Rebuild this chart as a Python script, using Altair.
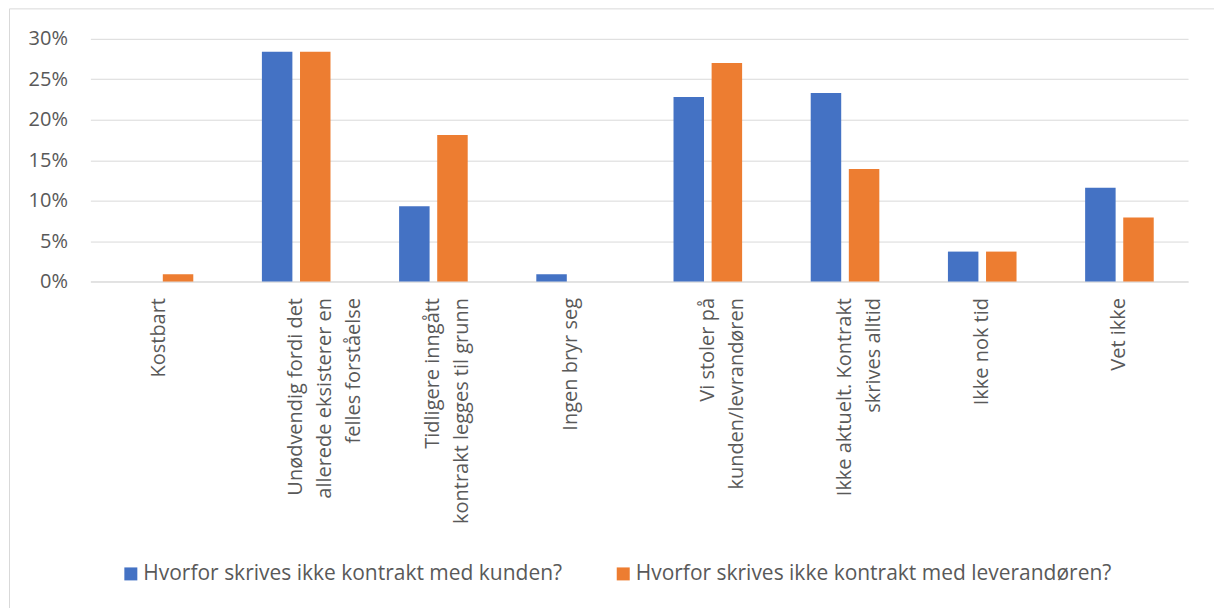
import altair as alt
import pandas as pd

# Svarkategorier (linjeskift markert med \n) og andeler i prosent
kategorier = [
    "Kostbart",
    "Unødvendig fordi det\nallerede eksisterer en\nfelles forståelse",
    "Tidligere inngått\nkontrakt legges til grunn",
    "Ingen bryr seg",
    "Vi stoler på\nkunden/levrandøren",
    "Ikke aktuelt. Kontrakt\nskrives alltid",
    "Ikke nok tid",
    "Vet ikke",
]
serier = [
    "Hvorfor skrives ikke kontrakt med kunden?",
    "Hvorfor skrives ikke kontrakt med leverandøren?",
]
kunden = [0.0, 28.4, 9.3, 0.9, 22.8, 23.3, 3.7, 11.6]
leverandoren = [0.9, 28.4, 18.1, 0.0, 27.0, 13.9, 3.7, 7.9]
farger = ["#4472C4", "#ED7D31"]
y_ticks = [0, 5, 10, 15, 20, 25, 30]

rows = []
for kat, k, l in zip(kategorier, kunden, leverandoren):
    rows.append({"kategori": kat, "serie": serier[0], "verdi": k})
    rows.append({"kategori": kat, "serie": serier[1], "verdi": l})
df = pd.DataFrame(rows)

W, H = 1099, 243
FONT = "Open Sans"
TEXT = "#595959"
GRID = "#D9D9D9"

bars = alt.Chart(df).mark_bar().encode(
    x=alt.X(
        "kategori:N",
        sort=kategorier,
        title=None,
        scale=alt.Scale(paddingInner=0.5, paddingOuter=0.25),
        axis=alt.Axis(
            labelAngle=-90,
            labelAlign="right",
            labelBaseline="middle",
            labelPadding=16,
            labelLimit=500,
            labelLineHeight=29,
            labelExpr="split(datum.label, '\\n')",
            ticks=False,
            domainColor=GRID,
            labelFont=FONT,
            labelFontSize=20,
            labelColor=TEXT,
        ),
    ),
    xOffset=alt.XOffset(
        "serie:N", sort=serier, scale=alt.Scale(paddingInner=0.2, paddingOuter=0)
    ),
    y=alt.Y(
        "verdi:Q",
        title=None,
        scale=alt.Scale(domain=[0, 30], nice=False),
        axis=alt.Axis(
            values=y_ticks,
            labelExpr="datum.value + '%'",
            domain=False,
            ticks=False,
            labelPadding=23,
            gridColor=GRID,
            gridWidth=1,
            labelFont=FONT,
            labelFontSize=20,
            labelColor=TEXT,
        ),
    ),
    color=alt.Color(
        "serie:N",
        sort=serier,
        scale=alt.Scale(domain=serier, range=farger),
        legend=alt.Legend(
            title=None,
            orient="none",
            direction="horizontal",
            legendX=30,
            legendY=525,
            symbolType="square",
            symbolSize=169,
            symbolStrokeWidth=0,
            labelFont=FONT,
            labelFontSize=21,
            labelColor=TEXT,
            labelLimit=600,
            labelOffset=2,
            columnPadding=50,
            padding=0,
        ),
    ),
)

# Tynn ramme rundt diagrammet (venstre og øvre kant)
frame_left = alt.Chart().mark_rule(color=GRID, strokeWidth=1).encode(
    x=alt.value(-81), y=alt.value(-30), y2=alt.value(570)
)
frame_top = alt.Chart().mark_rule(color=GRID, strokeWidth=1).encode(
    x=alt.value(-81), x2=alt.value(1125), y=alt.value(-30)
)

chart = (
    alt.layer(bars, frame_left, frame_top)
    .properties(
        width=W,
        height=H,
        padding={"left": 8.5, "top": 7.5, "right": 0, "bottom": 0},
        background="white",
    )
    .configure_view(stroke=None)
)

chart.save("out.html", embed_options={"renderer": "svg", "actions": False})
